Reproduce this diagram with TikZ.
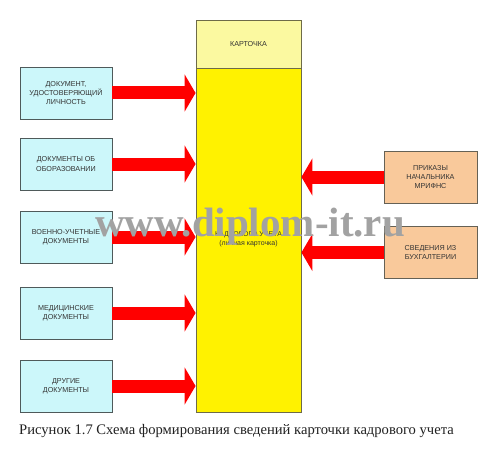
\documentclass[tikz,border=0pt]{standalone}
\usepackage{fontspec}
\setmainfont{Liberation Serif}
\newfontfamily\boxfont{Liberation Sans}
\usetikzlibrary{arrows.meta}
\definecolor{cyanbox}{HTML}{CCF7FA}
\definecolor{peachbox}{HTML}{F9C99B}
\definecolor{lightyel}{HTML}{FBF9A0}
\definecolor{boxedge}{HTML}{4F5A5A}
\definecolor{txt}{HTML}{333333}
\definecolor{wm}{HTML}{A2A2A2}
\tikzset{
  srcbox/.style={draw=boxedge, line width=0.9pt, fill=cyanbox, minimum width=92pt, minimum height=52pt, inner sep=1pt, align=center, font=\boxfont\fontsize{7.2}{9.3}\selectfont, text=txt},
  rbox/.style={srcbox, fill=peachbox, draw=boxedge!80!brown, minimum width=93pt},
  cardbox/.style={draw=black!65!yellow, line width=0.9pt, minimum width=105pt, inner sep=0pt, align=center, font=\boxfont\fontsize{7.2}{9.3}\selectfont, text=txt},
  bigarrow/.style={draw=red, line width=13pt, -{Triangle[length=11pt,width=37pt]}},
}
\begin{document}
\begin{tikzpicture}[x=1pt,y=-1pt]
\useasboundingbox[fill=white] (0,0) rectangle (504,460);
% central card
\node[cardbox, fill=lightyel, minimum height=48pt] (top) at (248.5,44) {КАРТОЧКА};
\node[cardbox, fill=yellow, minimum height=344pt] (main) at (248.5,240) {};
\node[font=\boxfont\fontsize{7}{9}\selectfont, text=txt, align=center] (maintxt) at (248.5,239) {КАДРОВОГО УЧЕТА\\(личная карточка)};
% left boxes
\node[srcbox] (l1) at (66,93) {ДОКУМЕНТ,\\УДОСТОВЕРЯЮЩИЙ\\ЛИЧНОСТЬ};
\node[srcbox] (l2) at (66,164) {ДОКУМЕНТЫ ОБ\\ОБОРАЗОВАНИИ};
\node[srcbox] (l3) at (66,237) {ВОЕННО-УЧЕТНЫЕ\\ДОКУМЕНТЫ};
\node[srcbox] (l4) at (66,313) {МЕДИЦИНСКИЕ\\ДОКУМЕНТЫ};
\node[srcbox] (l5) at (66,386) {ДРУГИЕ\\ДОКУМЕНТЫ};
% right boxes
\node[rbox] (r1) at (430.5,177) {ПРИКАЗЫ\\НАЧАЛЬНИКА\\МРИФНС};
\node[rbox] (r2) at (430.5,252.5) {СВЕДЕНИЯ ИЗ\\БУХГАЛТЕРИИ};
% arrows
\foreach \n in {l1,l2,l3,l4,l5}
  \draw[bigarrow] (\n.east) -- (\n.east -| main.west);
\foreach \n in {r1,r2}
  \draw[bigarrow] (\n.west) -- (\n.west -| main.east);
% watermark
\node[anchor=base west, inner sep=0pt, text=wm, font=\fontsize{41}{41}\selectfont\bfseries] (wmark) at (95,236) {www.diplom-it.ru};
% caption
\node[anchor=base west, inner sep=0pt, text=black!87, font=\fontsize{14.6}{16}\selectfont] (cap) at (19,434) {Рисунок 1.7 Схема формирования сведений карточки кадрового учета};
\end{tikzpicture}
\end{document}
